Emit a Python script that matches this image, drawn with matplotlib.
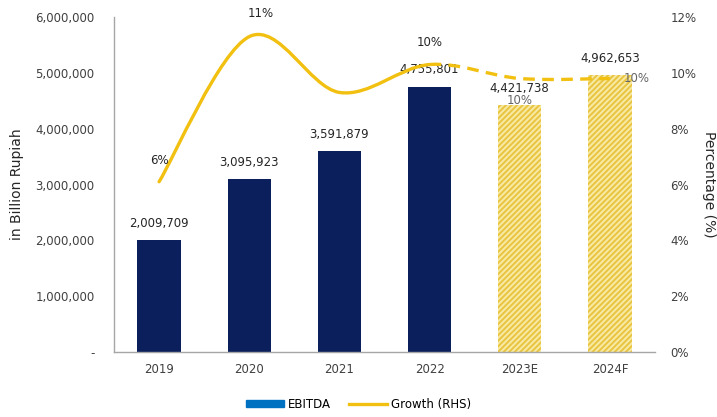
import numpy as np
import matplotlib
matplotlib.use("Agg")
import matplotlib.pyplot as plt
from matplotlib.path import Path
from matplotlib.patches import PathPatch, Patch
from matplotlib.lines import Line2D
from matplotlib.ticker import FuncFormatter

#------------------------------------------------------------------
years = ["2019", "2020", "2021", "2022", "2023E", "2024F"]
ebitda = [2009709, 3095923, 3591879, 4755801, 4421738, 4962653]
growth = [6.1, 11.3, 9.3, 10.3, 9.8, 9.8]          # % (RHS)
growth_labels = ["6%", "11%", "", "10%", "10%", "10%"]
n_actual = 4                                        # 2019-2022 actual, rest projected

navy = "#0a1f5c"
yellow = "#f2c010"
legend_blue = "#0070c0"
txt = "#262626"
#------------------------------------------------------------------

plt.rcParams["font.family"] = "DejaVu Sans"
plt.rcParams["hatch.linewidth"] = 1.4

fig = plt.figure(figsize=(7.17, 4.17), dpi=100)
ax = fig.add_axes([0.159, 0.156, 0.7545, 0.803])
ax2 = ax.twinx()

x = np.arange(len(years))

# bars: solid for actual, hatched for estimate / forecast
for i, v in enumerate(ebitda):
    if i < n_actual:
        ax.bar(x[i], v, width=0.48, color=navy, zorder=2)
    else:
        ax.bar(x[i], v, width=0.48, facecolor="#f8eaa4", edgecolor="#e8c440",
               hatch="//////", linewidth=0, zorder=2)
    ax.annotate(f"{v:,}", (x[i], v), xytext=(0, 12), textcoords="offset points",
                ha="center", va="center", fontsize=8.5, color=txt, zorder=3)

ax.set_xlim(-0.5, len(years) - 0.5)
ax.set_ylim(0, 6000000)
ax.set_yticks(np.arange(0, 6000001, 1000000))
ax.yaxis.set_major_formatter(FuncFormatter(lambda v, p: "-" if v == 0 else f"{v:,.0f}"))
ax.set_xticks(x)
ax.set_xticklabels(years)
ax.tick_params(length=0, labelsize=8.5, colors="#404040", pad=8)
ax.tick_params(axis="y", pad=14)
for s in ["top", "right"]:
    ax.spines[s].set_visible(False)
for s in ["left", "bottom"]:
    ax.spines[s].set_color("#a6a6a6")
    ax.spines[s].set_linewidth(1)
ax.set_ylabel("in Billion Rupiah", fontsize=10, color=txt, labelpad=8)

# smoothed growth line (bezier handles like a spreadsheet "smoothed line")
pts = np.column_stack([x, growth]).astype(float)
def seg_path(i0, i1):
    verts = [pts[i0]]
    codes = [Path.MOVETO]
    for i in range(i0, i1):
        p_prev = pts[max(i - 1, 0)]
        p0, p1 = pts[i], pts[i + 1]
        p_next = pts[min(i + 2, len(pts) - 1)]
        c1 = p0 + (p1 - p_prev) / 6.0
        c2 = p1 - (p_next - p0) / 6.0
        verts += [c1, c2, p1]
        codes += [Path.CURVE4] * 3
    return Path(verts, codes)

ax2.add_patch(PathPatch(seg_path(0, n_actual - 1), facecolor="none", edgecolor=yellow,
                        linewidth=2.4, capstyle="round", zorder=4))
ax2.add_patch(PathPatch(seg_path(n_actual - 1, len(pts) - 1), facecolor="none",
                        edgecolor=yellow, linewidth=2.4, linestyle=(0, (3.5, 2.2)),
                        zorder=4))

offsets = [(0, 15), (8, 17), (0, 0), (0, 16), (0, -15.5), (19.5, 0)]
for i, lab in enumerate(growth_labels):
    if not lab:
        continue
    col = txt if i < n_actual else "#666666"
    ax2.annotate(lab, (x[i], growth[i]), xytext=offsets[i], textcoords="offset points",
                 ha="center", va="center", fontsize=8.5, color=col, zorder=5)

ax2.set_ylim(0, 12)
ax2.set_yticks(np.arange(0, 13, 2))
ax2.yaxis.set_major_formatter(FuncFormatter(lambda v, p: f"{v:.0f}%"))
ax2.tick_params(length=0, labelsize=8.5, colors="#404040", pad=11)
for s in ax2.spines.values():
    s.set_visible(False)
ax2.set_ylabel("Percentage (%)", fontsize=10, color=txt, rotation=270, labelpad=14)

handles = [Patch(color=legend_blue, label="EBITDA"),
           Line2D([], [], color=yellow, linewidth=2.4, label="Growth (RHS)")]
fig.legend(handles=handles, loc="lower center", bbox_to_anchor=(0.5, -0.01), ncol=2,
           frameon=False, fontsize=8.5, handlelength=3.2, handleheight=0.45,
           handletextpad=0.3, columnspacing=1.6)

plt.savefig("out.png", dpi=100)
